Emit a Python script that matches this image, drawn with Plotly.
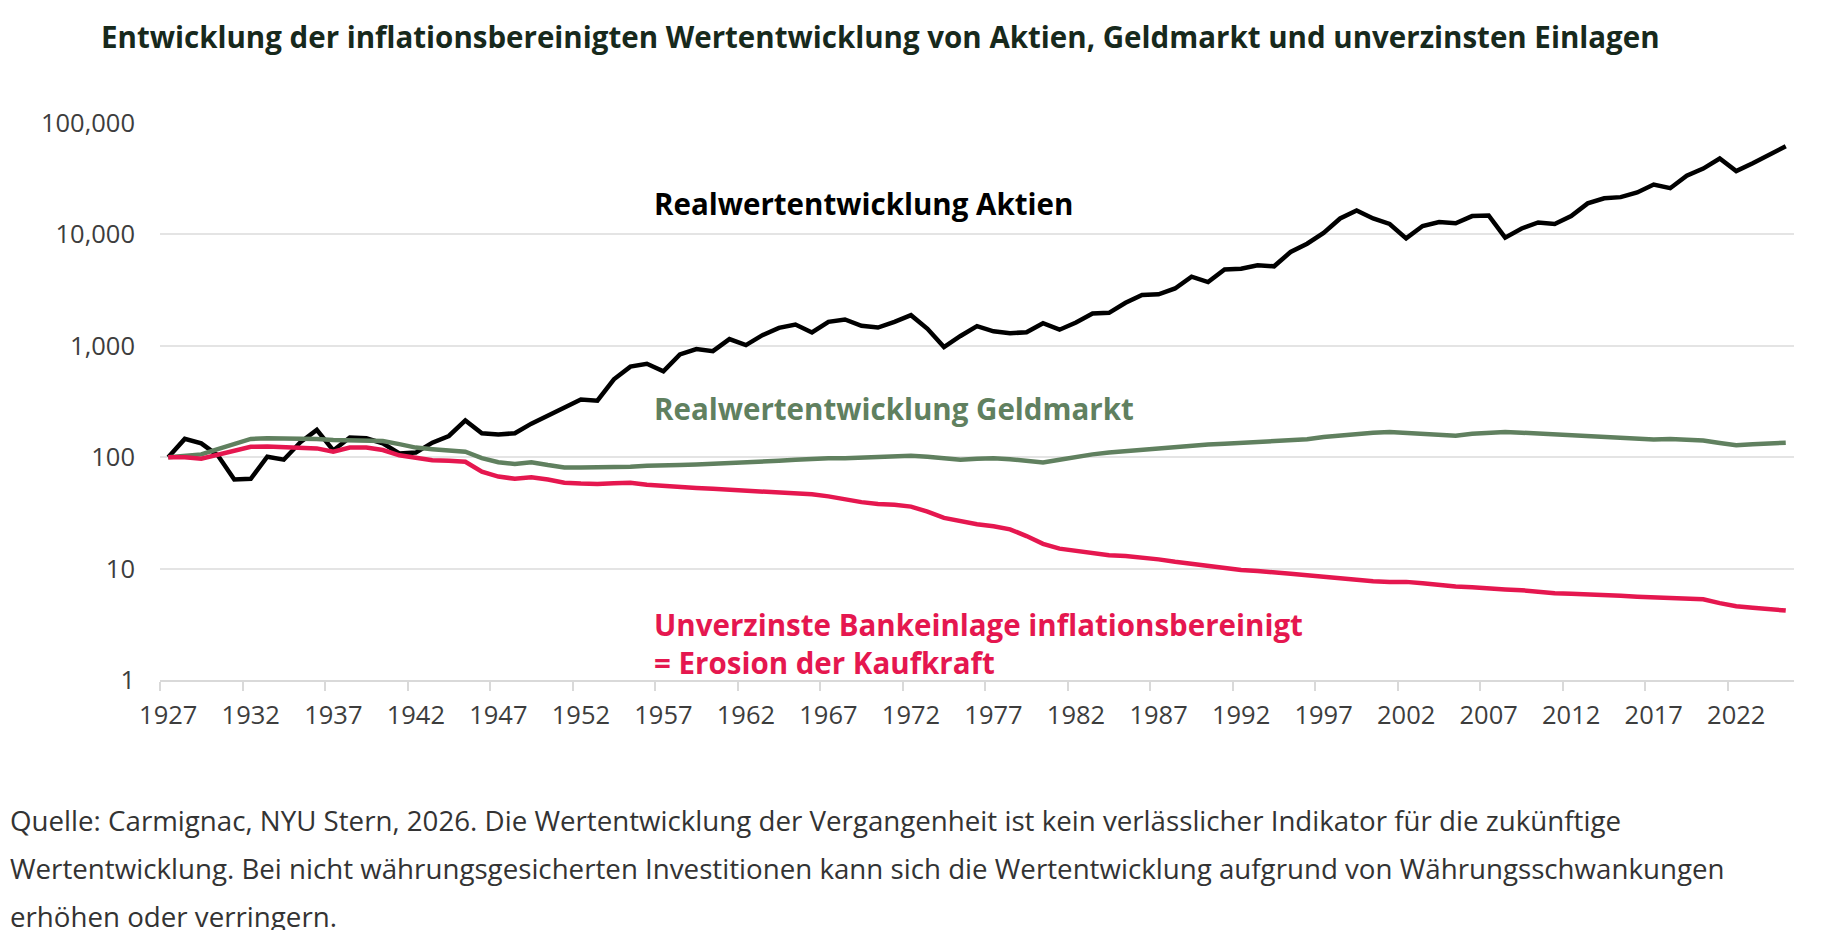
import plotly.graph_objects as go

# ----------------# Daten (Startwert 1927 = 100)

jahre = list(range(1927, 2026))

aktien = [
    100, 146, 133, 104, 63, 64, 101, 95, 136, 176,          # 1927-1936
    115, 150, 148, 133, 108, 110, 135, 155, 214, 164,       # 1937-1946
    160, 164, 200, 238, 284, 330, 322, 500, 650, 690,       # 1947-1956
    590, 836, 934, 896, 1148, 1014, 1246, 1449, 1552, 1316, # 1957-1966
    1640, 1722, 1511, 1459, 1640, 1883, 1420, 975, 1225, 1500,  # 1967-1976
    1350, 1296, 1325, 1594, 1395, 1618, 1948, 1977, 2430, 2860, # 1977-1986
    2900, 3270, 4170, 3730, 4840, 4910, 5290, 5170, 6960, 8250, # 1987-1996
    10300, 13900, 16400, 13900, 12400, 9220, 11900, 12900, 12600, 14600,  # 1997-2006
    14800, 9350, 11300, 12800, 12400, 14600, 19000, 21100, 21600, 23800,  # 2007-2016
    28000, 26000, 33700, 39000, 48000, 37000, 43600, 52500, 61800,        # 2017-2025
]

geldmarkt = [
    100, 103, 106, 118, 131, 146, 148, 148, 147, 146,       # 1927-1936
    143, 142, 142, 140, 131, 122, 118, 116, 112, 98,        # 1937-1946
    90, 87, 90, 85, 81, 81, 81, 82, 82, 84,                 # 1947-1956
    84, 85, 86, 87, 88, 90, 91, 93, 95, 97,                 # 1957-1966
    98, 98, 99, 101, 102, 103, 101, 97, 95, 97,             # 1967-1976
    98, 96, 92, 89.5, 95, 101, 106, 110, 113, 117,          # 1977-1986
    120, 125, 128, 130, 132, 134, 136, 138, 140, 145,       # 1987-1996
    152, 157, 162, 166, 168, 164, 162, 158, 156, 162,       # 1997-2006
    164, 168, 166, 163, 160, 157, 155, 152, 149, 147,       # 2007-2016
    144, 146, 145, 141, 134, 128, 131, 134, 135,            # 2017-2025
]

einlage = [
    100, 100, 97, 106, 115, 124, 125, 124, 122, 120,        # 1927-1936
    112, 122, 122, 116, 104, 98, 94, 93, 91, 74,            # 1937-1946
    67, 64, 66, 63, 59, 58, 57.5, 58.5, 59, 56.5,           # 1947-1956
    55, 53.5, 53, 52, 51, 50.5, 49.5, 48.5, 47.5, 46.5,     # 1957-1966
    44.5, 41.5, 39.5, 38, 37.5, 36, 32.5, 28.5, 26.5, 25,   # 1967-1976
    24, 22.5, 19.6, 16.7, 15.1, 14.4, 13.8, 13.2, 13.0, 12.6,  # 1977-1986
    12.1, 11.5, 11.0, 10.5, 10.1, 9.7, 9.5, 9.35, 9.0, 8.7,    # 1987-1996
    8.4, 8.1, 7.95, 7.7, 7.6, 7.6, 7.4, 7.1, 6.9, 6.8,         # 1997-2006
    6.6, 6.5, 6.4, 6.2, 6.0, 5.95, 5.9, 5.8, 5.7, 5.6,         # 2007-2016
    5.5, 5.45, 5.4, 5.3, 4.9, 4.6, 4.45, 4.35, 4.2,            # 2017-2025
]

x_ticks = list(range(1927, 2023, 5))
y_ticks = [1, 10, 100, 1000, 10000, 100000]
y_labels = ["1", "10", "100", "1,000", "10,000", "100,000"]

# ----------------# Farben / Layout

SCHWARZ = "#000000"
GRUEN = "#60805f"
ROT = "#e5174f"
TEXT = "#3d3d3d"
FONT = "Open Sans"

W, H = 1825, 930
OFF = 8  # Seitenrand des Browsers (body margin)
L, R, T, B = 160, 1794, 123, 680   # Plotfläche in Bildpixeln


def px_x(px):
    return (px - L) / (R - L)


def px_y(py):
    return (B - py) / (B - T)


fig = go.Figure()

fig.add_trace(go.Scatter(x=jahre, y=aktien, mode="lines",
                         line=dict(color=SCHWARZ, width=4.5), name="Aktien"))
fig.add_trace(go.Scatter(x=jahre, y=geldmarkt, mode="lines",
                         line=dict(color=GRUEN, width=4.5), name="Geldmarkt"))
fig.add_trace(go.Scatter(x=jahre, y=einlage, mode="lines",
                         line=dict(color=ROT, width=4.5), name="Einlage"))

# ----------------# Beschriftungen

labels = [
    ("Realwertentwicklung Aktien", SCHWARZ, 203),
    ("Realwertentwicklung Geldmarkt", GRUEN, 408),
    ("Unverzinste Bankeinlage inflationsbereinigt<br>= Erosion der Kaufkraft", ROT, 643),
]
annotations = []
for txt, col, py in labels:
    annotations.append(dict(
        text=txt, xref="paper", yref="paper", x=px_x(652), y=px_y(py),
        xanchor="left", yanchor="middle", align="left", showarrow=False,
        font=dict(family=FONT, size=29.5, color=col, weight=700),
    ))

fussnote = [
    "Quelle: Carmignac, NYU Stern, 2026. Die Wertentwicklung der Vergangenheit ist kein verlässlicher Indikator für die zukünftige",
    "Wertentwicklung. Bei nicht währungsgesicherten Investitionen kann sich die Wertentwicklung aufgrund von Währungsschwankungen",
    "erhöhen oder verringern.",
]
for i, txt in enumerate(fussnote):
    annotations.append(dict(
        text=txt, xref="paper", yref="paper", x=px_x(8), y=px_y(820 + 48 * i),
        xanchor="left", yanchor="middle", showarrow=False,
        font=dict(family=FONT, size=27.7, color="#333333"),
    ))

fig.update_layout(
    width=W, height=H,
    margin=dict(l=L - OFF, r=W - R + OFF, t=T - OFF, b=H - B + OFF),
    paper_bgcolor="white", plot_bgcolor="white",
    showlegend=False, hovermode=False,
    title=dict(
        text="Entwicklung der inflationsbereinigten Wertentwicklung von Aktien, Geldmarkt und unverzinsten Einlagen",
        xref="container", yref="container", x=(101 - OFF) / W, y=1 - (38 - OFF) / H,
        xanchor="left", yanchor="middle",
        font=dict(family=FONT, size=29.5, color="#17291c", weight=700),
    ),
    annotations=annotations,
)

fig.update_xaxes(
    range=[1926.5, 2025.5], tickmode="array", tickvals=x_ticks,
    ticks="", showgrid=False, zeroline=False,
    showline=True, linecolor="#d9d9d9", linewidth=2,
    tickfont=dict(family=FONT, size=25.5, color=TEXT), ticklabelstandoff=11,
    minor=dict(tickmode="linear", tick0=1926.5, dtick=5, ticks="outside",
               ticklen=9, tickwidth=1.5, tickcolor="#d9d9d9", showgrid=False),
)

fig.update_yaxes(
    type="log", range=[0, 5], tickmode="array", tickvals=y_ticks, ticktext=y_labels,
    showgrid=True, gridcolor="#e4e4e4", gridwidth=1.5, zeroline=False, showline=False,
    ticks="", tickfont=dict(family=FONT, size=25.5, color=TEXT), ticklabelstandoff=24,
)

fig.write_html("out.html")
